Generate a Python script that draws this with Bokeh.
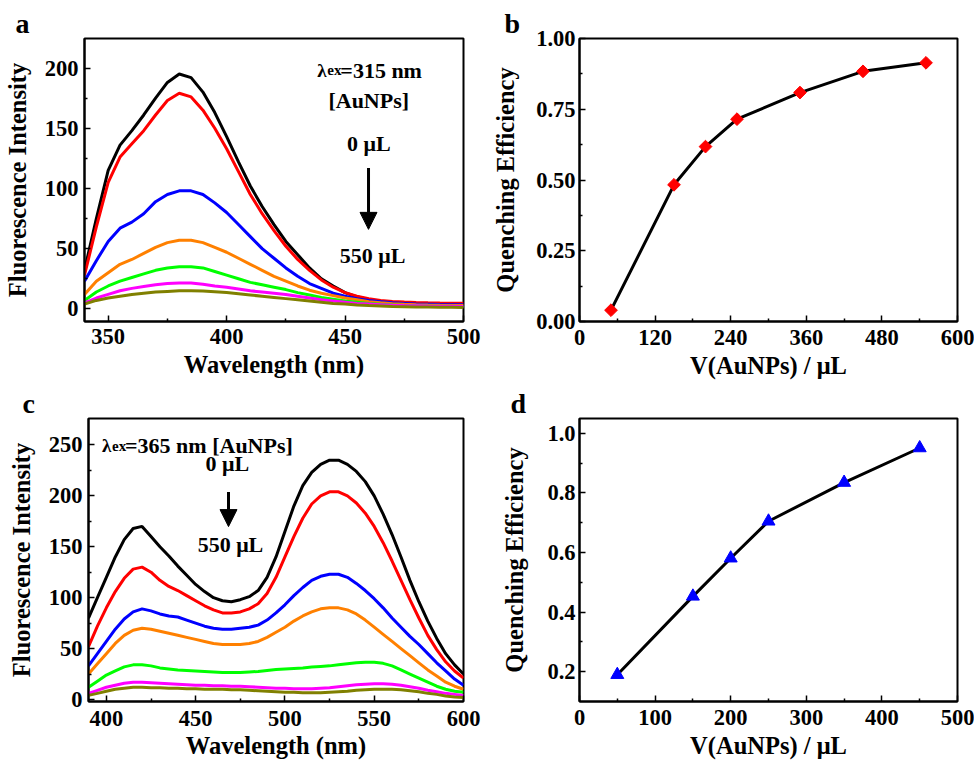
from bokeh.plotting import figure
from bokeh.models import Label, Arrow, NormalHead, FixedTicker, Range1d, PrintfTickFormatter, Title
from bokeh.layouts import row, column
from bokeh.embed import file_html
from bokeh.resources import INLINE

FONT = "Liberation Serif"
COLORS = ["black", "#ff0000", "#0000ff", "#ff8000", "#00ff00", "#ff00ff", "#808000"]

# ---------------- Panel a data (lambda_ex = 315 nm) ----------------
wl_a = [340, 345, 350, 355, 360, 365, 370, 375, 380, 385, 390, 395, 400, 405, 410, 415,
        420, 425, 430, 435, 440, 445, 450, 455, 460, 465, 470, 475, 480, 485, 490, 495, 500]
a_0   = [32, 75, 115, 136, 148, 161, 175, 188, 195, 192, 180, 163, 143, 122, 102, 85,
         70, 56, 45, 34, 25, 19, 13.5, 10, 7.5, 6, 5.2, 4.7, 4.4, 4.2, 4.0, 3.9, 3.8]
a_1   = [28, 68, 105, 126, 137, 148, 161, 173, 179, 176, 165, 150, 133, 114, 95, 79,
         65, 52, 41, 32, 24, 18, 13.5, 10.5, 8.5, 7, 6.2, 5.7, 5.3, 5.0, 4.8, 4.7, 4.6]
a_2   = [23, 40, 56, 67, 72, 79, 89, 95, 98, 98, 95, 88, 80, 70, 60, 50,
         42, 34, 27, 21, 17, 13, 10.5, 8.5, 7, 6, 5, 4.5, 4, 3.8, 3.6, 3.5, 3.4]
a_3   = [12, 23, 30, 37, 41, 46, 51, 55, 57, 57, 55, 51, 47, 42, 37, 32,
         27, 23, 19, 15.5, 13, 11, 9, 7.5, 6, 5, 4.3, 3.8, 3.4, 3.1, 2.9, 2.8, 2.7]
a_4   = [7, 14, 19, 23, 26, 29, 32, 34, 35, 35, 34, 31, 28, 25, 22, 20,
         18, 16, 13.5, 11.5, 9.5, 8, 6.5, 5.5, 4.5, 3.8, 3.2, 2.8, 2.5, 2.3, 2.2, 2.1, 2.0]
a_5   = [5, 9, 12, 15, 17, 18.5, 20, 21, 21.5, 21.5, 20.5, 19, 18, 16.5, 15, 14,
         13, 12, 10.5, 9, 7.5, 6.5, 5.5, 4.5, 4, 3.5, 3, 2.7, 2.5, 2.3, 2.2, 2.1, 2.0]
a_6   = [4, 7, 9, 10.5, 12, 13, 14, 14.5, 15, 15, 14.8, 14.2, 13.5, 12.5, 11.5, 10.5,
         9.5, 8.5, 7.5, 6.5, 5.5, 4.5, 4, 3.3, 2.8, 2.4, 2.0, 1.8, 1.6, 1.5, 1.4, 1.3, 1.2]
series_a = [a_0, a_1, a_2, a_3, a_4, a_5, a_6]

# ---------------- Panel b data ----------------
vol_b = [50, 150, 200, 250, 350, 450, 550]
qe_b = [0.04, 0.483, 0.618, 0.715, 0.809, 0.884, 0.914]

# ---------------- Panel c data (lambda_ex = 365 nm) ----------------
wl_c = [390, 395, 400, 405, 410, 415, 420, 425, 430, 435, 440, 445, 450, 455, 460, 465,
        470, 475, 480, 485, 490, 495, 500, 505, 510, 515, 520, 525, 530, 535, 540, 545,
        550, 555, 560, 565, 570, 575, 580, 585, 590, 595, 600]
c_0 = [80, 100, 120, 140, 157, 168, 170, 160, 150, 141, 131, 122, 113, 106, 100, 97,
       96, 98, 101, 107, 120, 140, 165, 190, 210, 223, 231, 235, 235, 231, 224, 214,
       200, 182, 162, 140, 117, 96, 77, 60, 45, 34, 25]
c_1 = [52, 72, 90, 106, 119, 128, 130, 125, 117, 111, 107, 102, 97, 92, 88, 85,
       85, 86, 89, 94, 104, 120, 140, 160, 178, 192, 200, 204, 204, 200, 193, 183,
       170, 154, 136, 117, 98, 80, 63, 49, 37, 28, 21]
c_2 = [33, 45, 57, 69, 79, 86, 89, 87, 84, 82, 81, 78, 75, 72, 70, 69,
       69, 70, 71, 73, 78, 85, 93, 102, 110, 117, 121, 123, 123, 120, 114, 107,
       99, 90, 80, 71, 62, 54, 45, 36, 28, 20, 14]
c_3 = [25, 35, 45, 55, 63, 68, 70, 69, 67, 65, 63, 61, 59, 57, 55, 54,
       54, 54, 55, 57, 61, 66, 71, 77, 82, 86, 89, 90, 90, 88, 84, 78,
       71, 64, 57, 50, 43, 36, 29, 23, 17, 13, 10]
c_4 = [12, 18, 24, 28, 32, 34, 34, 33, 31, 30, 29, 28.5, 28, 27.5, 27, 26.5,
       26.5, 26.5, 27, 27.5, 28.5, 29.5, 30, 30.5, 31, 32, 32.5, 33, 34, 35, 36, 36.5,
       36.5, 35.5, 33, 29, 25, 21, 17, 13, 10, 8, 7]
c_5 = [6, 9, 12, 14, 16, 17, 17, 16.5, 16, 15.5, 15, 14.5, 14, 14, 13.5, 13.5,
       13, 13, 12.5, 12, 11.5, 11, 11, 10.5, 10.5, 10.5, 11, 11.5, 12.5, 13.5, 14.5, 15,
       15.5, 15.5, 15, 14, 12.5, 11, 9, 7.5, 6, 5, 4]
c_6 = [4, 6, 8, 10, 11, 12, 12, 11.5, 11.5, 11, 11, 10.5, 10.5, 10, 10, 10,
       9.5, 9.5, 9, 8.5, 8, 7.5, 7, 7, 6.5, 6.5, 6.5, 7, 7.5, 8, 9, 9.5,
       10, 10, 10, 9.5, 8.5, 7.5, 6, 5, 3.5, 2.5, 2]
series_c = [c_0, c_1, c_2, c_3, c_4, c_5, c_6]

# ---------------- Panel d data ----------------
vol_d = [50, 150, 200, 250, 350, 450]
qe_d = [0.19, 0.453, 0.581, 0.705, 0.835, 0.951]

# ---------------- ticks ----------------
ticks_a_x = [350, 400, 450, 500]
minor_a_x = [375, 425, 475]
ticks_a_y = [0, 50, 100, 150, 200]
minor_a_y = [25, 75, 125, 175]
ticks_b_x = [0, 120, 240, 360, 480, 600]
minor_b_x = [60, 180, 300, 420, 540]
ticks_b_y = [0.0, 0.25, 0.5, 0.75, 1.0]
minor_b_y = [0.125, 0.375, 0.625, 0.875]
ticks_c_x = [400, 450, 500, 550, 600]
minor_c_x = [425, 475, 525, 575]
ticks_c_y = [0, 50, 100, 150, 200, 250]
minor_c_y = [25, 75, 125, 175, 225]
ticks_d_x = [0, 100, 200, 300, 400, 500]
minor_d_x = [50, 150, 250, 350, 450]
ticks_d_y = [0.2, 0.4, 0.6, 0.8, 1.0]
minor_d_y = [0.3, 0.5, 0.7, 0.9]


def make_fig(w, h, bl, br, bt, bb, xr, yr, letter, letter_offset):
    t = Title(text=letter, align="left", offset=letter_offset, standoff=0,
              text_font=FONT, text_font_style="bold", text_font_size="28px", text_color="black")
    p = figure(width=w, height=h, x_range=Range1d(*xr), y_range=Range1d(*yr),
               output_backend="svg", toolbar_location=None, title=t,
               min_border_left=bl, min_border_right=br, min_border_top=bt, min_border_bottom=bb)
    p.xgrid.visible = False
    p.ygrid.visible = False
    p.outline_line_color = "black"
    p.outline_line_width = 2
    p.outline_line_alpha = 1
    p.background_fill_color = "white"
    p.border_fill_color = "white"
    return p


def style_axes(p, xt, xm, yt, ym, xlabel, ylabel, ylab_standoff=6, yaxis_standoff=10,
               xlab_standoff=3, xaxis_standoff=1):
    p.xaxis.ticker = FixedTicker(ticks=xt, minor_ticks=xm)
    p.yaxis.ticker = FixedTicker(ticks=yt, minor_ticks=ym)
    p.xaxis.axis_label = xlabel
    p.yaxis.axis_label = ylabel
    for ax in (p.xaxis[0], p.yaxis[0]):
        ax.axis_line_width = 2
        ax.axis_line_color = "black"
        ax.major_tick_in = 6
        ax.major_tick_out = 0
        ax.minor_tick_in = 3
        ax.minor_tick_out = 0
        ax.major_tick_line_width = 1.5
        ax.minor_tick_line_width = 1.5
        ax.major_tick_line_color = "black"
        ax.minor_tick_line_color = "black"
        ax.major_label_text_font = FONT
        ax.major_label_text_font_style = "bold"
        ax.major_label_text_font_size = "22.5px"
        ax.major_label_text_color = "black"
        ax.axis_label_text_font = FONT
        ax.axis_label_text_font_style = "bold"
        ax.axis_label_text_font_size = "24.5px"
        ax.axis_label_text_color = "black"
    p.yaxis[0].major_label_standoff = ylab_standoff
    p.yaxis[0].axis_label_standoff = yaxis_standoff
    p.xaxis[0].major_label_standoff = xlab_standoff
    p.xaxis[0].axis_label_standoff = xaxis_standoff


def add_text(p, x, y, text, size="22px", align="center", baseline="middle", x_offset=0):
    p.add_layout(Label(x=x, y=y, text=text, text_font=FONT, text_font_style="bold",
                       text_font_size=size, text_color="black", text_align=align,
                       text_baseline=baseline, x_offset=x_offset))


def add_lambda(p, x, y, rest):
    add_text(p, x, y, "λ", size="19px", align="left", baseline="alphabetic")
    add_text(p, x, y, "ex", size="15px", align="left", baseline="alphabetic", x_offset=10)
    add_text(p, x, y, rest, size="22px", align="left", baseline="alphabetic", x_offset=23)


def add_arrow(p, x, y0, y1):
    p.add_layout(Arrow(end=NormalHead(size=17, fill_color="black", line_color="black"),
                       x_start=x, y_start=y0, x_end=x, y_end=y1,
                       line_width=3, line_color="black"))


# ---------------- Panel a ----------------
pa = make_fig(487, 381, 84, 24, 37, 58, (340, 500), (-10.5, 224.5), "a", -69)
style_axes(pa, ticks_a_x, minor_a_x, ticks_a_y, minor_a_y, "Wavelength (nm)", "Fluorescence Intensity",
           ylab_standoff=6, yaxis_standoff=11, xlab_standoff=7, xaxis_standoff=4)
for ys, col in zip(series_a, COLORS):
    pa.line(wl_a, ys, line_color=col, line_width=3)
add_lambda(pa, 438.3, 198, "=315 nm")
add_text(pa, 460, 172.7, "[AuNPs]")
add_text(pa, 460, 137.3, "0 μL")
add_arrow(pa, 459.9, 117, 66)
add_text(pa, 461.6, 44.4, "550 μL")

# ---------------- Panel b ----------------
pb = make_fig(487, 381, 92, 17, 38, 58, (0, 600), (0, 1.0), "b", -75)
style_axes(pb, ticks_b_x, minor_b_x, ticks_b_y, minor_b_y, "V(AuNPs) / μL", "Quenching Efficiency",
           ylab_standoff=4, yaxis_standoff=14, xlab_standoff=8, xaxis_standoff=4)
pb.yaxis[0].formatter = PrintfTickFormatter(format="%.2f")
pb.line(vol_b, qe_b, line_color="black", line_width=3)
pb.scatter(vol_b, qe_b, marker="square", angle=0.785398, size=9, fill_color="#ff0000",
           line_color="#ff0000")

# ---------------- Panel c ----------------
pc = make_fig(487, 380, 88, 24, 35, 59, (390, 600), (-2, 276), "c", -66)
style_axes(pc, ticks_c_x, minor_c_x, ticks_c_y, minor_c_y, "Wavelength (nm)", "Fluorescence Intensity",
           ylab_standoff=6, yaxis_standoff=11, xlab_standoff=9, xaxis_standoff=3)
for ys, col in zip(series_c, COLORS):
    pc.line(wl_c, ys, line_color=col, line_width=3)
add_lambda(pc, 397.6, 249.3, "=365 nm [AuNPs]")
add_text(pc, 467.7, 231.4, "0 μL")
add_arrow(pc, 468.4, 203.9, 169.8)
add_text(pc, 469.5, 152, "550 μL")

# ---------------- Panel d ----------------
pd_ = make_fig(487, 380, 92, 17, 37, 58, (0, 500), (0.1, 1.05), "d", -69)
style_axes(pd_, ticks_d_x, minor_d_x, ticks_d_y, minor_d_y, "V(AuNPs) / μL", "Quenching Efficiency",
           ylab_standoff=4, yaxis_standoff=16, xlab_standoff=8, xaxis_standoff=4)
pd_.yaxis[0].formatter = PrintfTickFormatter(format="%.1f")
pd_.line(vol_d, qe_d, line_color="black", line_width=3)
pd_.scatter(vol_d, qe_d, marker="triangle", size=13, fill_color="#0000ff", line_color="#0000ff")

layout = column(row(pa, pb), row(pc, pd_))
open("out.html", "w").write(file_html(layout, INLINE))
